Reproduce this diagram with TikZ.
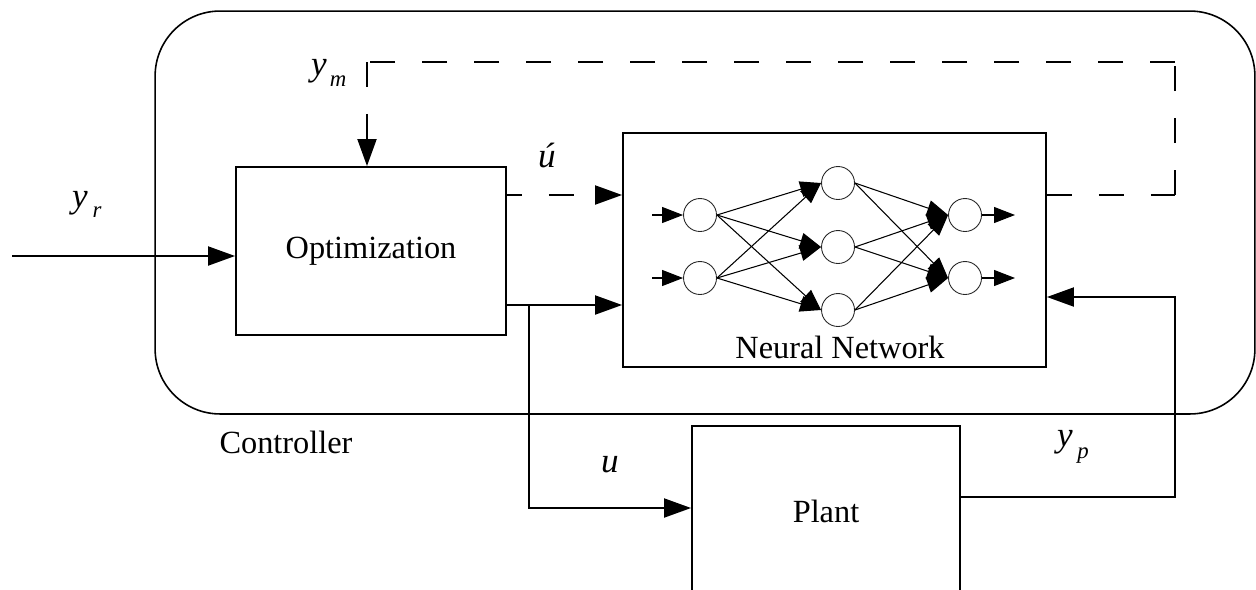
\documentclass[tikz,border=0pt]{standalone}
\usepackage{fontspec}
\setmainfont{Liberation Serif}
\usetikzlibrary{arrows.meta}
\begin{document}
\begin{tikzpicture}[x=0.02cm,y=-0.02cm,
  tip/.style={-{Triangle[length=0.54cm,width=0.38cm]}},
  sig/.style={line width=1.1pt,tip},
  dline/.style={line width=1.1pt,dash pattern=on 0.5cm off 0.54cm},
  blk/.style={draw,line width=1.1pt,inner sep=0pt},
  neuron/.style={circle,draw=black!85,line width=0.5pt,minimum size=0.66cm,inner sep=0pt},
  nn/.style={line width=0.6pt,-{Triangle[length=0.42cm,width=0.32cm]}},
  lbl/.style={font=\fontsize{18.4}{20}\selectfont,inner sep=0pt},
  mlbl/.style={font=\fontsize{20}{22}\selectfont\itshape,inner sep=0pt},
  sub/.style={font=\fontsize{13}{14}\selectfont\itshape,inner sep=0pt},
]
\clip (0,0) rectangle (1256,589);
\fill[white] (0,0) rectangle (1256,589);

% controller frame
\node[draw,line width=0.9pt,rounded corners=1.3cm,minimum width=22cm,minimum height=8.06cm,inner sep=0pt] (ctrl) at (705,212.5) {};
\node[lbl] (ctrllbl) at (286,442) {Controller};

% blocks
\node[blk,minimum width=5.4cm,minimum height=3.36cm] (opt) at (371,251) {};
\node[lbl] (optlbl) at (371,251) {Optimization};
\node[blk,minimum width=8.46cm,minimum height=4.68cm] (nn) at (834.5,250) {};
\node[lbl] (nnlbl) at (840,347) {Neural Network};
\node[blk,minimum width=5.36cm,minimum height=4cm] (plant) at (826,526) {};
\node[lbl] (plantlbl) at (826,511) {Plant};

% neurons
\node[neuron] (i1) at (700,215) {};
\node[neuron] (i2) at (700,278) {};
\node[neuron] (h1) at (838,183) {};
\node[neuron] (h2) at (838,247) {};
\node[neuron] (h3) at (838,310) {};
\node[neuron] (o1) at (965,215) {};
\node[neuron] (o2) at (965,278) {};
\coordinate (ni1) at (652,215);
\coordinate (ni2) at (652,278);
\coordinate (no1) at (1015,215);
\coordinate (no2) at (1015,278);
\draw[nn] (ni1) -- (i1.west);
\draw[nn] (ni2) -- (i2.west);
\draw[nn] (o1.east) -- (no1);
\draw[nn] (o2.east) -- (no2);
\foreach \a in {i1,i2}{\foreach \b in {h1,h2,h3}{\draw[nn] (\a.east) -- (\b.west);}}
\foreach \a in {h1,h2,h3}{\foreach \b in {o1,o2}{\draw[nn] (\a.east) -- (\b.west);}}

% helper coordinates
\coordinate (in) at (12,256);
\coordinate (ydash) at (0,195);
\coordinate (yu) at (0,305);
\coordinate (c1) at (1175,195);
\coordinate (c2) at (1175,62);
\coordinate (c3) at (367,62);
\coordinate (br) at (529,305);
\coordinate (ub) at (529,508);
\coordinate (yp1) at (1175,497);
\coordinate (yp2) at (1175,297);

% input y_r
\draw[sig] (in) -- (in -| opt.west);
% u-hat dashed
\draw[dline,tip,dash phase=0.2cm] (opt.east |- ydash) -- (nn.west |- ydash);
% solid u to NN
\draw[sig] (opt.east |- yu) -- (nn.west |- yu);
% u to plant
\draw[sig] (br) -- (ub) -- (ub -| plant.west);
% y_p feedback
\draw[sig] (plant.east |- yp1) -- (yp1) -- (yp2) -- (yp2 -| nn.east);
% y_m dashed feedback
\draw[dline] (nn.east |- c1) -- (c1);
\draw[dline] (c1) -- (c2);
\draw[dline] (c2) -- (c3);
\draw[dline,tip] (c3) -- (c3 |- opt.north);

% labels
\node[mlbl] (yr) at (80,203) {y};
\node[sub] (yrs) at (97,212) {r};
\node[mlbl] (ym) at (319,71) {y};
\node[sub] (yms) at (338,81) {m};
\node[mlbl] (uh) at (547,155) {ú};
\node[mlbl] (ul) at (610,465) {u};
\node[mlbl] (yp) at (1065,442) {y};
\node[sub] (yps) at (1083,456) {p};
\end{tikzpicture}
\end{document}
